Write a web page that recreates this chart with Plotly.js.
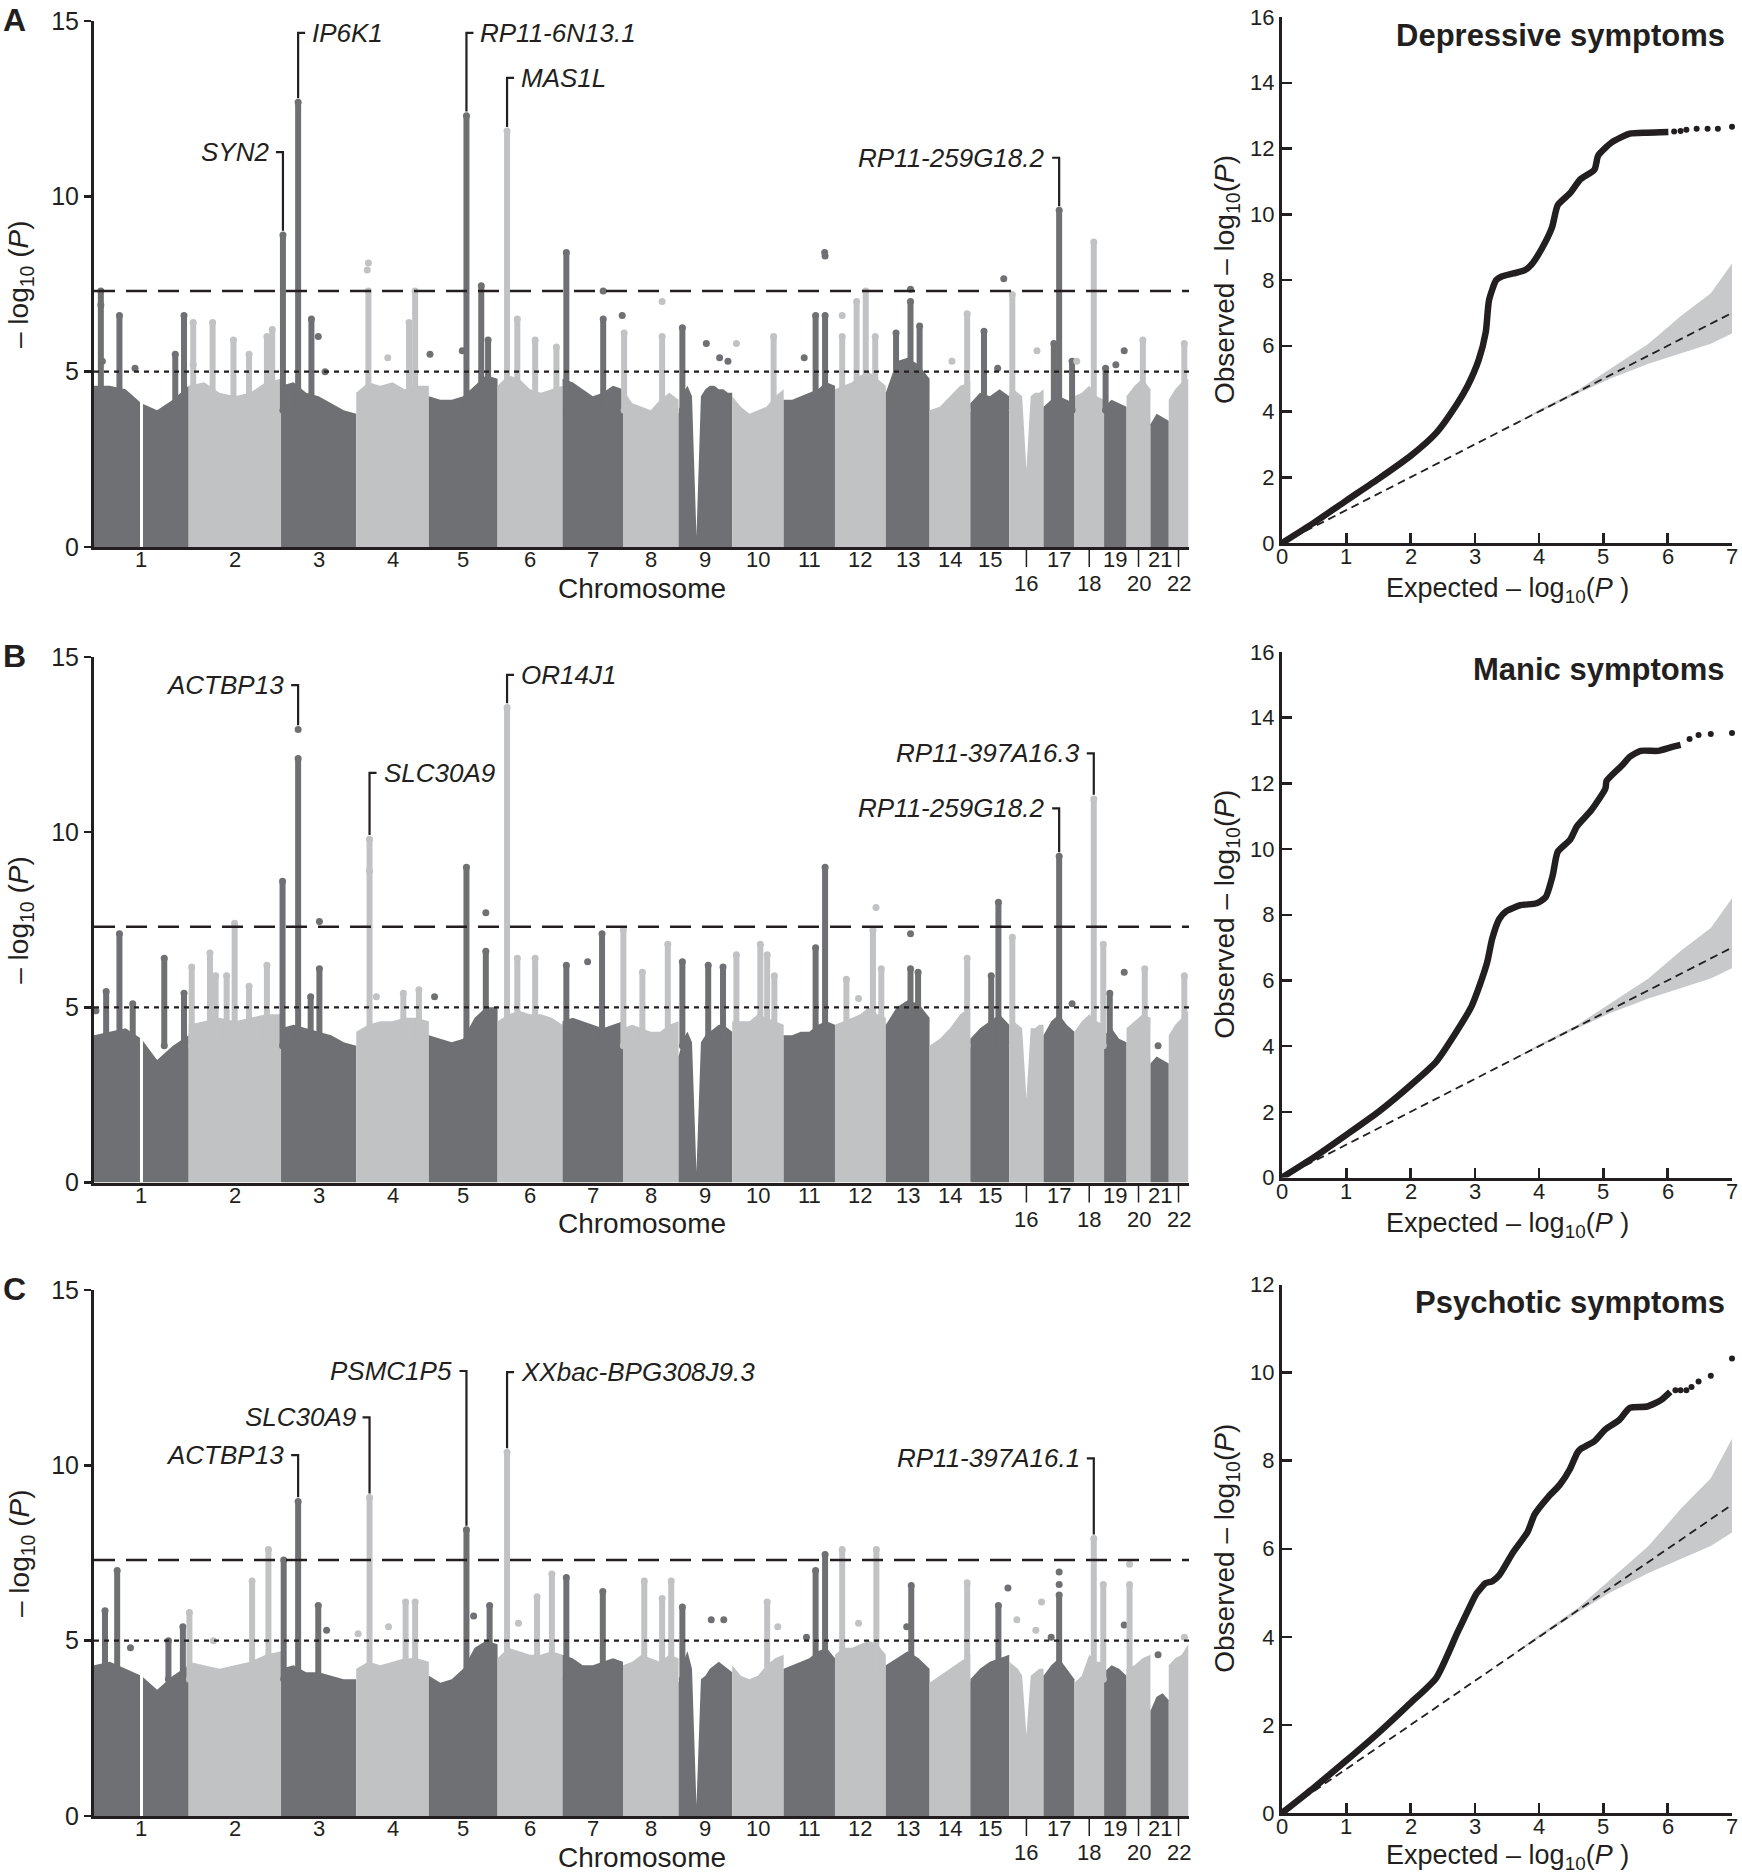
<!DOCTYPE html>
<html><head><meta charset="utf-8">
<script src="https://cdn.plot.ly/plotly-3.0.1.min.js"></script>
<style>html,body{margin:0;padding:0;background:#fff;} #chart{width:1742px;height:1875px;}</style>
</head><body><div id="chart"></div>
<script>
// ---------------- DATA ----------------
const chromLen = [249.25, 243.20, 198.02, 191.15, 180.92, 171.12, 159.14, 146.36, 141.21, 135.53, 135.01, 133.85, 115.17, 107.35, 102.53, 90.35, 81.20, 78.08, 59.13, 63.03, 48.13, 51.30];
const chromLabels = ["1","2","3","4","5","6","7","8","9","10","11","12","13","14","15","16","17","18","19","20","21","22"];
const lowerRowChroms = [16, 18, 20, 22];
const noDataGaps = [[1, 125]];
const genomeWideLine = 7.3;
const suggestiveLine = 5;
const qqXTicks = [0, 1, 2, 3, 4, 5, 6, 7];

// Upper edge of the dense point mass, evenly spaced along each chromosome
const massA = [
 [4.6,4.6,4.5,4.1,3.9,4.2,4.6],
 [4.6,4.7,4.4,4.3,4.4,4.7,4.8],
 [4.6,4.7,4.4,4.3,4.1,3.9,3.8],
 [4.4,4.7,4.6,4.7,4.5,4.6,4.6],
 [4.3,4.2,4.2,4.3,4.6,4.9,4.8],
 [4.6,4.9,4.8,4.5,4.4,4.5,4.6],
 [4.8,4.7,4.5,4.3,4.4,4.6,4.5],
 [4.5,4.1,4.0,3.9,4.2,4.4,4.2],
 [3.8,4.4,4.6,4.3,0.3,4.3,4.5,4.6,4.6,4.5,4.5,4.4,4.4],
 [4.3,4.0,3.8,3.9,4.0,4.3,4.5],
 [4.2,4.2,4.3,4.4,4.5,4.7,4.6],
 [4.5,4.6,4.7,4.9,5.0,4.8,4.6],
 [4.4,5.3,5.4,5.2,4.8],
 [3.9,4.0,4.3,4.6,4.7],
 [4.1,4.4,4.3,4.5,4.3],
 [4.4,4.5,4.4,4.3,2.2,4.3,4.4,4.4,4.5],
 [4.0,4.2,4.3,4.2,4.1],
 [4.3,4.4,4.6,4.3,4.2],
 [4.0,4.2,4.1,4.0],
 [4.3,4.6,4.8,4.5],
 [3.5,3.8,3.7,3.6],
 [4.2,4.5,4.7,4.8]
];
const massB = [
 [4.2,4.3,4.4,4.1,3.5,3.9,4.2],
 [4.5,4.6,4.7,4.6,4.7,4.8,4.8],
 [4.4,4.5,4.4,4.3,4.2,4.0,3.9],
 [4.3,4.5,4.6,4.6,4.7,4.7,4.6],
 [4.2,4.1,4.0,4.1,4.7,5.0,5.0],
 [4.6,4.8,4.9,4.8,4.8,4.7,4.5],
 [4.6,4.7,4.6,4.5,4.4,4.5,4.6],
 [4.4,4.5,4.4,4.3,4.3,4.5,4.6],
 [3.6,4.1,4.3,4.0,0.3,4.0,4.2,4.3,4.4,4.5,4.5,4.4,4.3],
 [4.6,4.6,4.6,4.8,4.7,4.6,4.5],
 [4.2,4.2,4.3,4.3,4.5,4.6,4.5],
 [4.5,4.6,4.7,4.8,5.0,4.8,4.7],
 [4.5,5.0,5.2,5.1,4.7],
 [3.9,4.1,4.4,4.8,5.0],
 [4.1,4.4,4.6,4.8,4.5],
 [4.5,4.6,4.5,4.4,2.4,4.4,4.4,4.5,4.5],
 [4.2,4.6,4.8,4.5,4.3],
 [4.3,4.6,4.8,4.6,4.5],
 [4.2,4.4,4.1,4.0],
 [4.4,4.6,4.8,4.7],
 [3.4,3.6,3.5,3.4],
 [4.2,4.5,4.7,4.9]
];
const massC = [
 [4.3,4.4,4.2,4.0,3.6,4.0,4.3],
 [4.4,4.3,4.2,4.3,4.4,4.6,4.7],
 [4.2,4.3,4.1,4.1,4.0,3.9,3.9],
 [4.2,4.4,4.3,4.4,4.5,4.5,4.4],
 [4.0,3.8,3.9,4.2,4.8,5.0,4.9],
 [4.5,4.8,4.7,4.6,4.6,4.7,4.6],
 [4.6,4.5,4.3,4.3,4.4,4.5,4.4],
 [4.3,4.4,4.6,4.5,4.4,4.6,4.5],
 [3.8,4.4,4.7,4.2,0.3,3.9,4.0,4.2,4.3,4.4,4.3,4.2,4.1],
 [4.3,4.0,3.9,4.0,4.3,4.5,4.6],
 [4.2,4.3,4.4,4.5,4.7,4.8,4.5],
 [4.6,4.8,4.8,4.9,5.0,4.9,4.6],
 [4.3,4.5,4.7,4.5,4.2],
 [3.8,4.0,4.2,4.4,4.6],
 [3.9,4.2,4.4,4.5,4.6],
 [4.4,4.3,4.2,4.0,2.3,4.0,4.1,4.2,4.2],
 [4.0,4.3,4.5,4.2,3.9],
 [3.8,4.0,4.6,4.4,4.4],
 [4.1,4.3,4.2,4.0],
 [4.2,4.3,4.5,4.6],
 [3.0,3.4,3.5,3.3],
 [4.3,4.5,4.6,4.9]
];

// Dense columns of SNPs: [chromosome, Mb within chromosome, top -log10(P)]
const colsA = [
 [1,18,7.3],[1,67,6.6],[1,214,5.5],[1,237,6.6],
 [2,12,6.4],[2,63,6.4],[2,118,5.9],[2,159,5.5],[2,206,6.0],[2,220,6.2],
 [3,5,8.9],[3,45,12.68],[3,80,6.5],
 [4,32,7.3],[4,139,6.4],[4,155,7.3],
 [5,99,12.3],[5,138,7.45],[5,156,5.9],
 [6,25,11.86],[6,52,6.5],[6,99,5.9],[6,155,5.7],
 [7,10,8.4],[7,107,6.5],
 [8,3,6.1],[8,103,6.0],
 [9,10,6.25],
 [10,109,6.0],
 [11,84,6.6],[11,109,6.6],
 [12,19,6.0],[12,57,7.0],[12,81,7.3],[12,106,6.0],
 [13,27,6.1],[13,65,7.0],[13,89,6.3],
 [14,99,6.65],
 [15,36,6.15],
 [16,8,7.2],
 [17,27,5.8],[17,41,9.6],[17,75,5.3],
 [18,51,8.7],
 [19,4,5.1],
 [20,43,5.9],
 [22,41,5.8]
];
const dotsA = [
 [1,22,5.3],[1,108,5.1],[1,18,6.9],[2,12,5.2],[3,98,6.0],[3,116,5.0],[4,32,8.1],[4,29,7.9],[4,83,5.4],
 [5,3,5.5],[5,88,5.6],[7,107,7.3],[7,157,6.6],[8,103,7.0],[9,73,5.8],[9,108,5.4],[9,130,5.3],
 [10,11,5.8],[11,54,5.4],[11,109,8.3],[11,108,8.4],[12,19,6.6],[13,65,7.35],[14,59,5.3],
 [15,72,5.1],[15,88,7.65],[16,73,5.6],[18,6,5.3],[19,31,5.2],[19,53,5.6]
];
const colsB = [
 [1,32,5.45],[1,67,7.1],[1,102,5.1],[1,185,6.4],[1,237,5.4],
 [2,8,6.15],[2,56,6.55],[2,71,5.9],[2,100,5.9],[2,121,7.4],[2,159,5.6],[2,206,6.2],
 [3,4,8.6],[3,45,12.1],[3,78,5.3],[3,101,6.1],
 [4,35,9.8],[4,124,5.4],[4,165,5.5],
 [5,99,9.0],[5,150,6.6],
 [6,25,13.56],[6,52,6.4],[6,99,6.4],
 [7,10,6.2],[7,104,7.1],
 [8,1,7.2],[8,51,6.0],[8,118,6.8],
 [9,10,6.3],[9,78,6.2],[9,117,6.15],
 [10,11,6.5],[10,74,6.8],[10,92,6.5],[10,111,5.9],
 [11,84,6.7],[11,109,9.0],
 [12,30,5.8],[12,100,7.2],[12,122,6.1],
 [13,65,6.1],[13,85,6.0],
 [14,99,6.4],
 [15,55,5.9],[15,74,8.0],
 [16,8,7.0],
 [17,41,9.31],
 [18,51,10.95],[18,76,6.8],
 [19,15,5.4],
 [20,48,6.1],
 [22,41,5.9]
];
const dotsB = [
 [1,5,4.9],[3,45,12.93],[3,101,7.45],[4,35,8.9],[4,53,5.3],[5,15,5.3],[5,150,7.7],[7,66,6.3],
 [12,108,7.85],[12,62,5.25],[13,65,7.1],[17,75,5.1],[19,53,6.0],[21,20,3.9]
];
const colsC = [
 [1,29,5.85],[1,61,7.0],[1,196,5.0],[1,234,5.4],
 [2,2,5.8],[2,167,6.7],[2,210,7.6],
 [3,7,7.3],[3,45,8.97],[3,98,6.0],
 [4,35,9.08],[4,130,6.1],[4,155,6.1],
 [5,99,8.16],[5,160,6.0],
 [6,25,10.37],[6,104,6.25],[6,143,6.9],
 [7,10,6.8],[7,106,6.4],
 [8,56,6.7],[8,103,6.2],[8,127,6.7],
 [9,10,5.96],
 [10,92,6.1],
 [11,84,7.0],[11,109,7.46],
 [12,19,7.6],[12,109,7.6],
 [13,67,6.57],
 [14,99,6.65],
 [15,74,6.0],
 [17,41,6.3],
 [18,51,7.91],[18,76,6.6],
 [20,8,6.6]
];
const dotsC = [
 [1,96,4.8],[2,65,5.0],[3,120,5.3],[4,5,5.2],[4,85,5.4],[5,118,5.7],[6,55,5.5],[9,86,5.6],[9,119,5.6],
 [10,120,5.4],[11,60,5.1],[12,62,5.5],[13,55,5.4],[15,99,6.5],[16,70,5.3],[16,85,6.1],[16,20,5.6],
 [17,41,6.96],[17,41,6.6],[17,20,5.1],[19,53,5.45],[20,8,7.18],[21,20,4.6],[22,41,5.1]
];

// Annotated genes: [name, chromosome, Mb, peak -log10(P), label level, side]
const genesA = [
 ["SYN2",3,5,8.9,11.26,"L"],
 ["IP6K1",3,45,12.68,14.66,"R"],
 ["RP11-6N13.1",5,99,12.3,14.66,"R"],
 ["MAS1L",6,25,11.86,13.38,"R"],
 ["RP11-259G18.2",17,41,9.6,11.1,"L"]
];
const genesB = [
 ["ACTBP13",3,45,12.93,14.2,"L"],
 ["SLC30A9",4,35,9.8,11.69,"R"],
 ["OR14J1",6,25,13.56,14.49,"R"],
 ["RP11-259G18.2",17,41,9.31,10.68,"L"],
 ["RP11-397A16.3",18,51,10.95,12.25,"L"]
];
const genesC = [
 ["ACTBP13",3,45,8.97,10.29,"L"],
 ["SLC30A9",4,35,9.08,11.37,"L"],
 ["PSMC1P5",5,99,8.16,12.69,"L"],
 ["XXbac-BPG308J9.3",6,25,10.37,12.66,"R"],
 ["RP11-397A16.1",18,51,7.91,10.2,"L"]
];

// QQ plots
const qqExpA = [0,0.5,1.0,1.5,2.0,2.4,2.73,2.89,3.06,3.17,3.22,3.33,3.41,3.6,3.77,3.88,4.04,4.2,4.29,4.48,4.64,4.86,4.92,5.14,5.41,5.68,6.01];
const qqObsA = [0,0.62,1.29,1.95,2.65,3.35,4.25,4.79,5.57,6.42,7.38,7.99,8.1,8.2,8.29,8.47,8.95,9.6,10.28,10.64,11.06,11.36,11.79,12.2,12.45,12.48,12.5];
const qqTailExpA = [6.1,6.2,6.29,6.45,6.62,6.78,7.0];
const qqTailObsA = [12.52,12.53,12.57,12.6,12.6,12.6,12.66];
const qqExpB = [0,0.5,1.0,1.5,2.0,2.4,2.73,2.95,3.08,3.19,3.27,3.38,3.49,3.71,3.96,4.1,4.21,4.29,4.48,4.59,4.81,5.03,5.05,5.3,5.41,5.58,5.85,6.07,6.2];
const qqObsB = [0,0.62,1.3,2.0,2.81,3.53,4.49,5.22,5.88,6.54,7.27,7.87,8.11,8.29,8.35,8.53,9.19,9.92,10.28,10.7,11.18,11.84,12.08,12.57,12.81,12.99,12.99,13.11,13.17];
const qqTailExpB = [6.34,6.48,6.67,7.0];
const qqTailObsB = [13.35,13.47,13.5,13.53];
const qqExpC = [0,0.5,1.0,1.5,2.0,2.4,2.73,2.95,3.03,3.17,3.27,3.38,3.6,3.82,3.93,4.15,4.32,4.48,4.59,4.64,4.86,5.03,5.25,5.41,5.68,5.9,6.04];
const qqObsC = [0,0.58,1.19,1.82,2.5,3.07,4.1,4.77,4.99,5.22,5.26,5.4,5.93,6.38,6.78,7.19,7.45,7.81,8.17,8.26,8.44,8.71,8.93,9.2,9.23,9.38,9.56];
const qqTailExpC = [6.12,6.2,6.29,6.37,6.48,6.67,7.0];
const qqTailObsC = [9.6,9.6,9.6,9.67,9.8,9.93,10.32];
const bandExp = [3.5,4.0,4.6,5.1,5.7,6.2,6.67,7.0];
const bandUpper = [3.5,4.05,4.65,5.3,6.06,6.9,7.6,8.5];
const bandLower = [3.5,3.98,4.55,5.0,5.45,5.76,6.06,6.37];
const nullLine = [0, 7];

const panelTitles = ["Depressive symptoms","Manic symptoms","Psychotic symptoms"];
const panelLetters = ["A","B","C"];

// ---------------- BUILD ----------------
const W = 1742, H = 1875;
const FONT = '"Liberation Sans", Arial, Helvetica, sans-serif';
const INK = '#231f20', DARK = '#6f7073', LIGHT = '#c1c2c4', BAND = '#c8c9cb';
const chromStart = []; let acc = 0;
chromLen.forEach(l => { chromStart.push(acc); acc += l; });
const genomeEnd = acc + 2;
const gx = (c, r) => chromStart[c - 1] + r;
const colorOf = c => (c % 2 === 1 ? DARK : LIGHT);
const px2mb = (1189 - 94) / genomeEnd;
const STUB = 7 / px2mb;

const panels = [
 {mass: massA, cols: colsA, dots: dotsA, genes: genesA, qe: qqExpA, qo: qqObsA, te: qqTailExpA, to: qqTailObsA, qmax: 16, mTop: 21, mBot: 547, qTop: 17, qBot: 543, expY: 590},
 {mass: massB, cols: colsB, dots: dotsB, genes: genesB, qe: qqExpB, qo: qqObsB, te: qqTailExpB, to: qqTailObsB, qmax: 16, mTop: 657, mBot: 1182.5, qTop: 652, qBot: 1177.5, expY: 1224.5},
 {mass: massC, cols: colsC, dots: dotsC, genes: genesC, qe: qqExpC, qo: qqObsC, te: qqTailExpC, to: qqTailObsC, qmax: 12, mTop: 1290, mBot: 1816, qTop: 1284.5, qBot: 1813, expY: 1857}
];

const traces = [];
const layout = {
 width: W, height: H, margin: {l: 0, r: 0, t: 0, b: 0},
 paper_bgcolor: '#fff', plot_bgcolor: 'rgba(0,0,0,0)', showlegend: false,
 font: {family: FONT, color: INK},
 annotations: [], shapes: []
};
const ann = (o) => layout.annotations.push(Object.assign({showarrow: false, font: {family: FONT, size: 22, color: INK}}, o));

panels.forEach((p, k) => {
 const mx = k === 0 ? 'x' : 'x' + (k + 1);
 const my = k === 0 ? 'y' : 'y' + (k + 1);
 const qx = 'x' + (k + 4), qy = 'y' + (k + 4);
 const mxKey = k === 0 ? 'xaxis' : 'xaxis' + (k + 1);
 const myKey = k === 0 ? 'yaxis' : 'yaxis' + (k + 1);

 // point masses
 p.mass.forEach((vals, i) => {
  const n = vals.length;
  const xs = vals.map((v, j) => chromStart[i] + chromLen[i] * j / (n - 1));
  traces.push({x: xs, y: vals, xaxis: mx, yaxis: my, mode: 'lines', line: {width: 0, color: colorOf(i + 1)},
   fill: 'tozeroy', fillcolor: colorOf(i + 1), hoverinfo: 'skip'});
 });
 // no-data gaps
 noDataGaps.forEach(g => {
  traces.push({x: [gx(g[0], g[1]), gx(g[0], g[1])], y: [0, 4.9], xaxis: mx, yaxis: my, mode: 'lines',
   line: {color: '#ffffff', width: 3}, hoverinfo: 'skip'});
 });
 // columns and dots per colour
 [DARK, LIGHT].forEach(col => {
  const cx = [], cy = [];
  p.cols.filter(c => colorOf(c[0]) === col).forEach(c => {
   const x = gx(c[0], c[1]);
   cx.push(x, x, null); cy.push(3.9, c[2], null);
  });
  traces.push({x: cx, y: cy, xaxis: mx, yaxis: my, mode: 'lines+markers', connectgaps: false,
   line: {color: col, width: 6}, marker: {color: col, size: 7}, hoverinfo: 'skip', cliponaxis: false});
  const d = p.dots.filter(c => colorOf(c[0]) === col);
  traces.push({x: d.map(c => gx(c[0], c[1])), y: d.map(c => c[2]), xaxis: mx, yaxis: my, mode: 'markers',
   marker: {color: col, size: 7}, hoverinfo: 'skip'});
 });
 // significance lines
 traces.push({x: [0, genomeEnd], y: [genomeWideLine, genomeWideLine], xaxis: mx, yaxis: my, mode: 'lines',
  line: {color: INK, width: 2.6, dash: '21px,11px'}, hoverinfo: 'skip'});
 traces.push({x: [0, genomeEnd], y: [suggestiveLine, suggestiveLine], xaxis: mx, yaxis: my, mode: 'lines',
  line: {color: INK, width: 2.4, dash: '5px,5px'}, hoverinfo: 'skip'});
 // gene labels
 p.genes.forEach(g => {
  const x = gx(g[1], g[2]);
  const s = g[5] === 'L' ? -1 : 1;
  traces.push({x: [x, x, x + s * STUB], y: [g[3] + 0.12, g[4], g[4]], xaxis: mx, yaxis: my, mode: 'lines',
   line: {color: INK, width: 2.2}, hoverinfo: 'skip'});
  ann({xref: mx, yref: my, x: x + s * STUB, y: g[4], xanchor: s < 0 ? 'right' : 'left', yanchor: 'middle',
   xshift: s * 5, text: '<i>' + g[0] + '</i>', font: {family: FONT, size: 26, color: INK}});
 });

 // axes
 layout[mxKey] = {domain: [94 / W, 1189 / W], range: [0, genomeEnd], anchor: my, showline: true, linecolor: INK,
  linewidth: 3, ticks: '', showticklabels: false, showgrid: false, zeroline: false, fixedrange: true};
 layout[myKey] = {domain: [1 - p.mBot / H, 1 - p.mTop / H], range: [0, 15], anchor: mx, showline: true, linecolor: INK,
  linewidth: 3, ticks: 'outside', ticklen: 7, tickwidth: 2.5, tickcolor: INK, tickvals: [0, 5, 10, 15],
  tickfont: {family: FONT, size: 25, color: INK}, showgrid: false, zeroline: false, fixedrange: true};

 // chromosome numbers
 chromLabels.forEach((lab, i) => {
  const mid = chromStart[i] + chromLen[i] / 2;
  const lower = lowerRowChroms.includes(i + 1);
  ann({xref: mx, yref: 'paper', x: mid, y: 1 - (p.mBot + (lower ? 36.5 : 12.5)) / H, xanchor: 'center', yanchor: 'middle',
   text: lab, font: {family: FONT, size: 22, color: INK}});
  if (lower) {
   layout.shapes.push({type: 'line', xref: mx, yref: 'paper', x0: mid, x1: mid,
    y0: 1 - (p.mBot + 1.5) / H, y1: 1 - (p.mBot + 20) / H, line: {color: INK, width: 1.5}});
  }
 });
 ann({xref: 'paper', yref: 'paper', x: 641.5 / W, y: 1 - (p.mBot + 41) / H, xanchor: 'center', yanchor: 'middle',
  text: 'Chromosome', font: {family: FONT, size: 28, color: INK}});
 ann({xref: 'paper', yref: 'paper', x: 21 / W, y: 1 - (p.mTop + p.mBot) / 2 / H, xanchor: 'center', yanchor: 'middle',
  textangle: -90, text: '– log<sub>10</sub> (<i>P</i>)', font: {family: FONT, size: 28, color: INK}});
 ann({xref: 'paper', yref: 'paper', x: 14 / W, y: 1 - (p.mTop - 1) / H, xanchor: 'center', yanchor: 'middle',
  text: '<b>' + panelLetters[k] + '</b>', font: {family: FONT, size: 32, color: INK}});

 // ---- QQ ----
 traces.push({x: bandExp.concat(bandExp.slice().reverse()), y: bandUpper.concat(bandLower.slice().reverse()),
  xaxis: qx, yaxis: qy, mode: 'lines', fill: 'toself', fillcolor: BAND, line: {width: 0}, hoverinfo: 'skip'});
 traces.push({x: nullLine, y: nullLine, xaxis: qx, yaxis: qy, mode: 'lines',
  line: {color: INK, width: 1.8, dash: '8px,5px'}, hoverinfo: 'skip'});
 traces.push({x: p.qe, y: p.qo, xaxis: qx, yaxis: qy, mode: 'lines',
  line: {color: INK, width: 6.5, shape: 'spline', smoothing: 0.6}, hoverinfo: 'skip'});
 traces.push({x: p.te, y: p.to, xaxis: qx, yaxis: qy, mode: 'markers', cliponaxis: false,
  marker: {color: INK, size: 6}, hoverinfo: 'skip'});

 const qyt = []; for (let v = 0; v <= p.qmax; v += 2) qyt.push(v);
 layout['xaxis' + (k + 4)] = {domain: [1282 / W, 1732 / W], range: [0, 7], anchor: qy, showline: true, linecolor: INK,
  linewidth: 3, ticks: 'inside', ticklen: 10, tickwidth: 2.5, tickcolor: INK, tickvals: qqXTicks,
  showticklabels: false, showgrid: false, zeroline: false, fixedrange: true};
 layout['yaxis' + (k + 4)] = {domain: [1 - p.qBot / H, 1 - p.qTop / H], range: [0, p.qmax], anchor: qx, showline: true,
  linecolor: INK, linewidth: 3, ticks: 'inside', ticklen: 10, tickwidth: 2.5, tickcolor: INK, tickvals: qyt,
  tickfont: {family: FONT, size: 22, color: INK}, showgrid: false, zeroline: false, fixedrange: true};
 qqXTicks.forEach(t => ann({xref: qx, yref: 'paper', x: t, y: 1 - (p.qBot + 13.5) / H, xanchor: 'center',
  yanchor: 'middle', text: String(t), font: {family: FONT, size: 22, color: INK}}));

 ann({xref: 'paper', yref: 'paper', x: 1507 / W, y: 1 - p.expY / H, xanchor: 'center', yanchor: 'middle',
  text: 'Expected – log<sub>10</sub>(<i>P</i> )', font: {family: FONT, size: 27, color: INK}});
 ann({xref: 'paper', yref: 'paper', x: 1227 / W, y: 1 - (p.qTop + p.qBot) / 2 / H, xanchor: 'center', yanchor: 'middle',
  textangle: -90, text: 'Observed – log<sub>10</sub>(<i>P</i>)', font: {family: FONT, size: 28, color: INK}});
 ann({xref: 'paper', yref: 'paper', x: 1727 / W, y: 1 - (p.qTop + 18) / H, xanchor: 'right', yanchor: 'middle',
  text: '<b>' + panelTitles[k] + '</b>', font: {family: FONT, size: 31, color: INK}});
});

Plotly.newPlot('chart', traces, layout, {staticPlot: true, displayModeBar: false});
</script>
</body></html>
